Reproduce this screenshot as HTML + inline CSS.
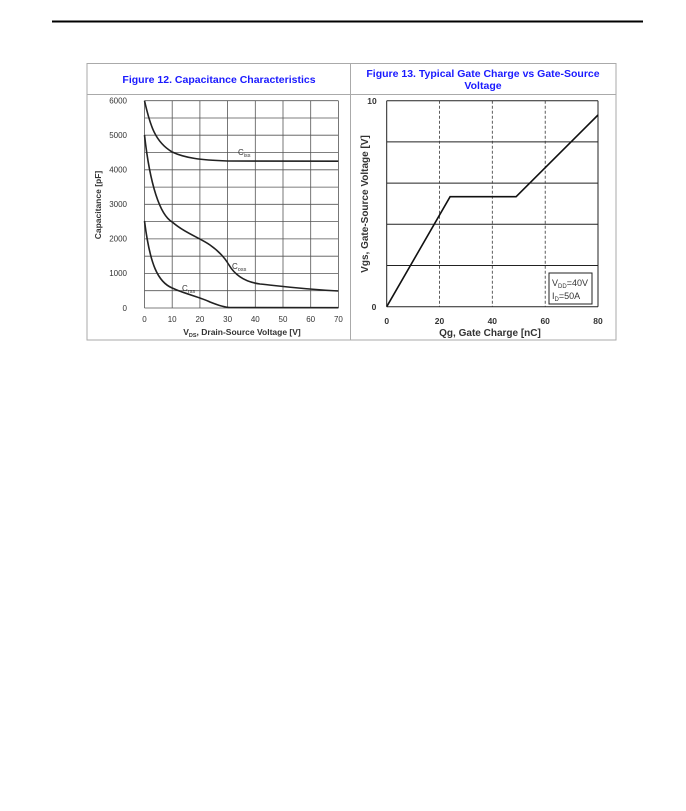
<!DOCTYPE html>
<html><head><meta charset="utf-8"><style>
html,body{margin:0;padding:0;background:#fff;}
svg{display:block;font-family:"Liberation Sans",Arial,sans-serif;}
</style></head><body>
<svg width="686" height="811" viewBox="0 0 686 811" xmlns="http://www.w3.org/2000/svg">
<line x1="52" y1="21.5" x2="643" y2="21.5" stroke="#000" stroke-width="2"/>
<!-- frame -->
<rect x="87" y="63.5" width="529" height="276.5" fill="none" stroke="#aaa" stroke-width="1"/>
<line x1="350.5" y1="63.5" x2="350.5" y2="340" stroke="#aaa"/>
<line x1="87" y1="94.5" x2="616" y2="94.5" stroke="#aaa"/>
<text x="219" y="83" font-size="10.5" font-weight="bold" fill="#1a1aff" text-anchor="middle">Figure 12. Capacitance Characteristics</text>
<text x="483" y="77" font-size="10.5" font-weight="bold" fill="#1a1aff" text-anchor="middle">Figure 13. Typical Gate Charge vs Gate-Source</text>
<text x="483" y="89" font-size="10.5" font-weight="bold" fill="#1a1aff" text-anchor="middle">Voltage</text>

<!-- left chart -->
<g stroke="#555" stroke-width="0.8">
<line x1="144.5" y1="100.7" x2="144.5" y2="308"/>
<line x1="172.2" y1="100.7" x2="172.2" y2="308"/>
<line x1="199.9" y1="100.7" x2="199.9" y2="308"/>
<line x1="227.6" y1="100.7" x2="227.6" y2="308"/>
<line x1="255.3" y1="100.7" x2="255.3" y2="308"/>
<line x1="283" y1="100.7" x2="283" y2="308"/>
<line x1="310.7" y1="100.7" x2="310.7" y2="308"/>
<line x1="338.4" y1="100.7" x2="338.4" y2="308"/>
<line x1="144.5" y1="100.7" x2="338.4" y2="100.7"/>
<line x1="144.5" y1="118" x2="338.4" y2="118"/>
<line x1="144.5" y1="135.2" x2="338.4" y2="135.2"/>
<line x1="144.5" y1="152.5" x2="338.4" y2="152.5"/>
<line x1="144.5" y1="169.8" x2="338.4" y2="169.8"/>
<line x1="144.5" y1="187.1" x2="338.4" y2="187.1"/>
<line x1="144.5" y1="204.3" x2="338.4" y2="204.3"/>
<line x1="144.5" y1="221.6" x2="338.4" y2="221.6"/>
<line x1="144.5" y1="238.9" x2="338.4" y2="238.9"/>
<line x1="144.5" y1="256.2" x2="338.4" y2="256.2"/>
<line x1="144.5" y1="273.4" x2="338.4" y2="273.4"/>
<line x1="144.5" y1="290.7" x2="338.4" y2="290.7"/>
<line x1="144.5" y1="308" x2="338.4" y2="308"/>
</g>
<g fill="none" stroke="#222" stroke-width="1.6">
<path d="M144.5,100.7 C150,125 155,142 172.2,152 C185,158 200,160 227.6,161 L338.4,161.2"/>
<path d="M144.5,135 C150,185 160,215 172.2,222 C185,233 200,238 210,245 C220,252 225,258 229,265 C235,275 245,282 260,284 C280,286 300,289 338.4,291"/>
<path d="M144.5,221 C150,265 158,282 172.2,288 C185,294 200,297 210,302 C220,306 225,307.5 230,307.5 L338.4,307.7"/>
</g>
<text x="238" y="155" font-size="8" fill="#333">C<tspan font-size="5.5" dy="2">iss</tspan></text>
<text x="232" y="269" font-size="8" fill="#333">C<tspan font-size="5.5" dy="2">oss</tspan></text>
<text x="182" y="291" font-size="8" fill="#333">C<tspan font-size="5.5" dy="2">rss</tspan></text>
<g font-size="8" fill="#333" text-anchor="end">
<text x="127" y="103.5">6000</text><text x="127" y="138">5000</text><text x="127" y="172.6">4000</text>
<text x="127" y="207">3000</text><text x="127" y="241.7">2000</text><text x="127" y="276.2">1000</text><text x="127" y="310.8">0</text>
</g>
<g font-size="8" fill="#333" text-anchor="middle">
<text x="144.5" y="322">0</text><text x="172.2" y="322">10</text><text x="199.9" y="322">20</text><text x="227.6" y="322">30</text>
<text x="255.3" y="322">40</text><text x="283" y="322">50</text><text x="310.7" y="322">60</text><text x="338.4" y="322">70</text>
</g>
<text x="242" y="335" font-size="8.5" font-weight="bold" fill="#333" text-anchor="middle">V<tspan font-size="5.5" dy="2">DS</tspan><tspan dy="-2">, Drain-Source Voltage [V]</tspan></text>
<text transform="translate(101,205) rotate(-90)" font-size="8.5" font-weight="bold" fill="#333" text-anchor="middle">Capacitance [pF]</text>

<!-- right chart -->
<g stroke="#222" stroke-width="1">
<line x1="386.7" y1="100.7" x2="598" y2="100.7"/>
<line x1="386.7" y1="141.9" x2="598" y2="141.9"/>
<line x1="386.7" y1="183.1" x2="598" y2="183.1"/>
<line x1="386.7" y1="224.3" x2="598" y2="224.3"/>
<line x1="386.7" y1="265.5" x2="598" y2="265.5"/>
<line x1="386.7" y1="306.7" x2="598" y2="306.7"/>
<line x1="386.7" y1="100.7" x2="386.7" y2="306.7"/>
<line x1="598" y1="100.7" x2="598" y2="306.7"/>
</g>
<g stroke="#333" stroke-width="0.8" stroke-dasharray="3,2">
<line x1="439.5" y1="100.7" x2="439.5" y2="306.7"/>
<line x1="492.3" y1="100.7" x2="492.3" y2="306.7"/>
<line x1="545.2" y1="100.7" x2="545.2" y2="306.7"/>
</g>
<polyline points="386.7,306.7 450.1,196.7 516.1,196.7 598,115" fill="none" stroke="#111" stroke-width="1.6"/>
<rect x="549" y="273" width="43" height="31" fill="#fff" stroke="#222" stroke-width="1"/>
<text x="552" y="286" font-size="9" fill="#333">V<tspan font-size="6" dy="2">DD</tspan><tspan dy="-2">=40V</tspan></text>
<text x="552" y="299" font-size="9" fill="#333">I<tspan font-size="6" dy="2">D</tspan><tspan dy="-2">=50A</tspan></text>
<g font-size="8.5" font-weight="bold" fill="#333" text-anchor="middle">
<text x="372" y="104">10</text><text x="374" y="310">0</text>
<text x="386.7" y="324">0</text><text x="439.5" y="324">20</text><text x="492.3" y="324">40</text><text x="545.2" y="324">60</text><text x="598" y="324">80</text>
</g>
<text x="490" y="336" font-size="10" font-weight="bold" fill="#333" text-anchor="middle">Qg, Gate Charge [nC]</text>
<text transform="translate(368,204) rotate(-90)" font-size="10" font-weight="bold" fill="#333" text-anchor="middle">Vgs, Gate-Source Voltage [V]</text>
</svg>
</body></html>
